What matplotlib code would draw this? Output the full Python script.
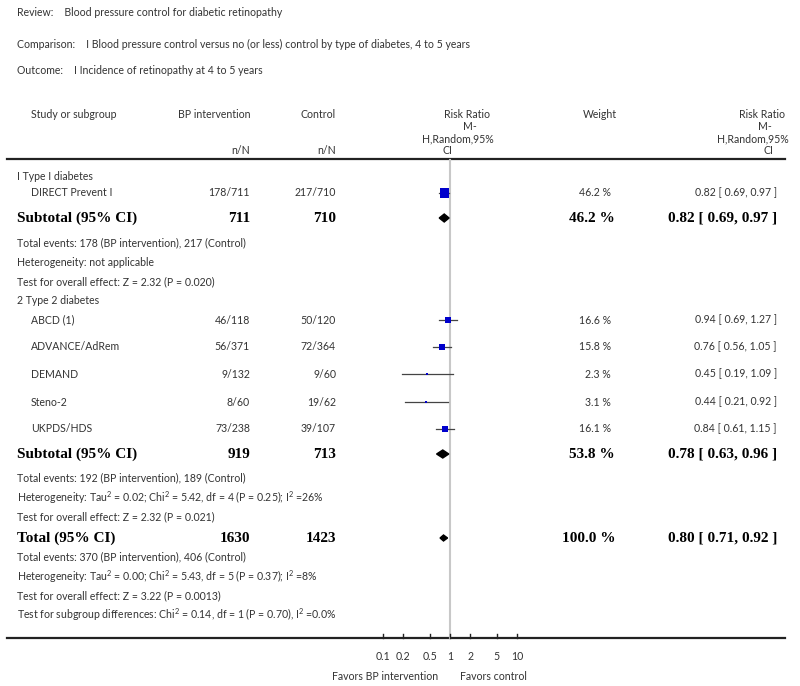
import numpy as np
import matplotlib.pyplot as plt

# study data
studies = ['DIRECT Prevent I', 'ABCD (1)', 'ADVANCE/AdRem', 'DEMAND', 'Steno-2', 'UKPDS/HDS']
bp_nN = ['178/711', '46/118', '56/371', '9/132', '8/60', '73/238']
ctrl_nN = ['217/710', '50/120', '72/364', '9/60', '19/62', '39/107']
rr = [0.82, 0.94, 0.76, 0.45, 0.44, 0.84]
lo = [0.69, 0.69, 0.56, 0.19, 0.21, 0.61]
hi = [0.97, 1.27, 1.05, 1.09, 0.92, 1.15]
weight = [46.2, 16.6, 15.8, 2.3, 3.1, 16.1]

# pooled results: subtotal 1, subtotal 2, total
pool_label = ['Subtotal (95% CI)', 'Subtotal (95% CI)', 'Total (95% CI)']
pool_bp = ['711', '919', '1630']
pool_ctrl = ['710', '713', '1423']
pool_rr = [0.82, 0.78, 0.80]
pool_lo = [0.69, 0.63, 0.71]
pool_hi = [0.97, 0.96, 0.92]
pool_w = [46.2, 53.8, 100.0]

ticks = [0.1, 0.2, 0.5, 1, 2, 5, 10]
tick_labels = ['0.1', '0.2', '0.5', '1', '2', '5', '10']

# row positions (pixels from top)
study_y = [193, 320, 347, 374, 402, 429]
pool_y = [218, 454, 538]
diamond_h = [8, 8, 6]

notes = [
    (176, 17, 'I Type I diabetes'),
    (243, 17, 'Total events: 178 (BP intervention), 217 (Control)'),
    (263, 17, 'Heterogeneity: not applicable'),
    (282, 17, 'Test for overall effect: Z = 2.32 (P = 0.020)'),
    (301, 17, '2 Type 2 diabetes'),
    (478, 17, 'Total events: 192 (BP intervention), 189 (Control)'),
    (498, 17, 'Heterogeneity: Tau$^{2}$ = 0.02; Chi$^{2}$ = 5.42, df = 4 (P = 0.25); I$^{2}$ =26%'),
    (517, 17, 'Test for overall effect: Z = 2.32 (P = 0.021)'),
    (557, 17, 'Total events: 370 (BP intervention), 406 (Control)'),
    (577, 17, 'Heterogeneity: Tau$^{2}$ = 0.00; Chi$^{2}$ = 5.43, df = 5 (P = 0.37); I$^{2}$ =8%'),
    (596, 17, 'Test for overall effect: Z = 3.22 (P = 0.0013)'),
    (615, 17, 'Test for subgroup differences: Chi$^{2}$ = 0.14, df = 1 (P = 0.70), I$^{2}$ =0.0%'),
]

plt.rcParams['font.family'] = ['Lato', 'DejaVu Sans']
plt.rcParams['mathtext.fontset'] = 'custom'
plt.rcParams['mathtext.rm'] = 'Lato'
fs = 7.6
col = '#333333'
serif = dict(family='Liberation Serif', fontweight='bold', fontsize=11, color='black')

fig = plt.figure(figsize=(8, 6.86), dpi=100)
ax = fig.add_axes([0, 0, 1, 1])
ax.set_xlim(0, 800)
ax.set_ylim(686, 0)
ax.axis('off')

# forest axis: 1 at px 450, one decade = 67 px
left_px, right_px = 370, 530
fx = fig.add_axes([left_px / 800, 0, (right_px - left_px) / 800, 1])
fx.set_xscale('log')
fx.set_xlim(10 ** ((left_px - 450) / 67), 10 ** ((right_px - 450) / 67))
fx.set_ylim(686, 0)
fx.axis('off')
fx.patch.set_alpha(0)

# header
ax.text(17, 12, 'Review:    Blood pressure control for diabetic retinopathy', fontsize=fs, color=col, va='center')
ax.text(17, 44, 'Comparison:    I Blood pressure control versus no (or less) control by type of diabetes, 4 to 5 years',
        fontsize=fs, color=col, va='center')
ax.text(17, 70, 'Outcome:    I Incidence of retinopathy at 4 to 5 years', fontsize=fs, color=col, va='center')

ax.text(31, 115, 'Study or subgroup', fontsize=fs, color=col, va='center')
ax.text(250, 115, 'BP intervention', fontsize=fs, color=col, va='center', ha='right')
ax.text(336, 115, 'Control', fontsize=fs, color=col, va='center', ha='right')
ax.text(250, 151, 'n/N', fontsize=fs, color=col, va='center', ha='right')
ax.text(336, 151, 'n/N', fontsize=fs, color=col, va='center', ha='right')
ax.text(600, 115, 'Weight', fontsize=fs, color=col, va='center', ha='center')
for cx, ci_x in [(467, 452), (762, 773)]:
    ax.text(cx + 23, 115, 'Risk Ratio', fontsize=fs, color=col, va='center', ha='right')
    ax.text(cx + 10, 127, 'M-', fontsize=fs, color=col, va='center', ha='right')
    ax.text(cx + 27, 139, 'H,Random,95%', fontsize=fs, color=col, va='center', ha='right')
    ax.text(ci_x, 151, 'CI', fontsize=fs, color=col, va='center', ha='right')

ax.plot([7, 785], [159, 159], color='#222222', lw=1.6)
ax.plot([7, 785], [638, 638], color='#222222', lw=1.6)

# text rows
for y, x, s in notes:
    ax.text(x, y, s, fontsize=fs, color=col, va='center')

for i, s in enumerate(studies):
    y = study_y[i]
    ax.text(31, y, s, fontsize=fs, color=col, va='center')
    ax.text(250, y, bp_nN[i], fontsize=fs, color=col, va='center', ha='right')
    ax.text(336, y, ctrl_nN[i], fontsize=fs, color=col, va='center', ha='right')
    ax.text(611, y, '%.1f %%' % weight[i], fontsize=fs, color=col, va='center', ha='right')
    ax.text(777, y, '%.2f [ %.2f, %.2f ]' % (rr[i], lo[i], hi[i]), fontsize=fs, color=col, va='center', ha='right')

for i, s in enumerate(pool_label):
    y = pool_y[i]
    ax.text(17, y, s, va='center', **serif)
    ax.text(250, y, pool_bp[i], va='center', ha='right', **serif)
    ax.text(336, y, pool_ctrl[i], va='center', ha='right', **serif)
    ax.text(615, y, '%.1f %%' % pool_w[i], va='center', ha='right', **serif)
    ax.text(777, y, '%.2f [ %.2f, %.2f ]' % (pool_rr[i], pool_lo[i], pool_hi[i]),
            va='center', ha='right', **serif)

# forest marks
fx.plot([1, 1], [160, 638], color='#c8c8c8', lw=1.5, zorder=1)
for i in range(len(studies)):
    y = study_y[i]
    fx.plot([lo[i], hi[i]], [y, y], color='#444444', lw=0.9, zorder=2)
    side = 1.35 * np.sqrt(weight[i])
    fx.scatter([rr[i]], [y], marker='s', s=(side * 0.72) ** 2, color='#0000cc', edgecolors='none', zorder=3)
for i in range(3):
    y = pool_y[i]
    h = diamond_h[i] / 2
    fx.fill([pool_lo[i], pool_rr[i], pool_hi[i], pool_rr[i]], [y, y - h, y, y + h], color='black', zorder=3)

# axis ticks
for t, lab in zip(ticks, tick_labels):
    fx.plot([t, t], [634, 638], color='#222222', lw=1.0)
    fx.text(t, 656, lab, fontsize=fs, color=col, ha='center', va='center')
fx.text(0.66, 676, 'Favors BP intervention', fontsize=fs, color=col, ha='right', va='center')
fx.text(1.41, 676, 'Favors control', fontsize=fs, color=col, ha='left', va='center')

fig.savefig('out.png', dpi=100)
